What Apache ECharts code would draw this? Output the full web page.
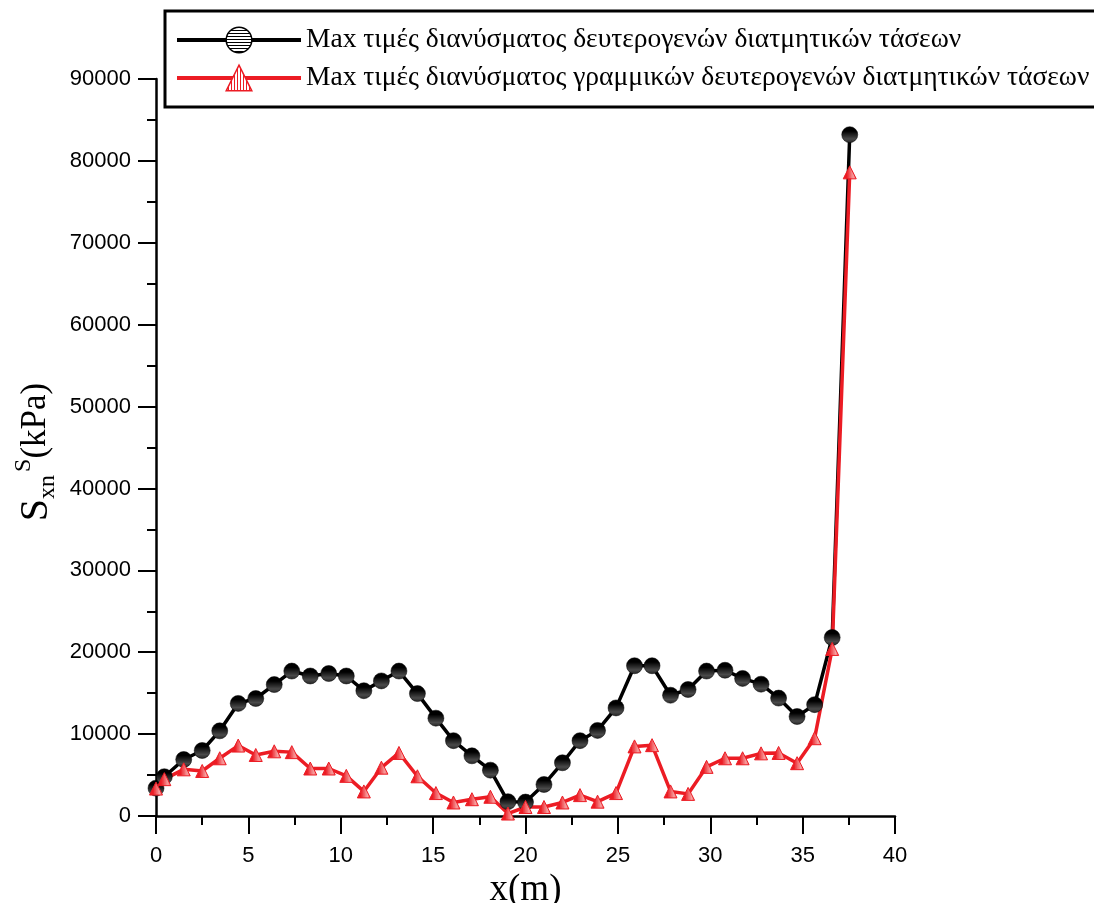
<!DOCTYPE html>
<html lang="el">
<head>
    <meta charset="UTF-8">
    <title>Sxn</title>
    <script src="https://cdn.jsdelivr.net/npm/echarts@6/dist/echarts.min.js"></script>
</head>
<body style="margin:0;background:#fff">

<div id="main" style="width:1094px;height:903px"></div>

<script>
    // θέσεις x (m)
    var xPos = [0, 0.45, 1.5, 2.5, 3.45, 4.45, 5.4, 6.4, 7.35, 8.35, 9.35, 10.3, 11.25, 12.2, 13.15, 14.15,
        15.15, 16.1, 17.1, 18.1, 19.05, 20.0, 21.0, 22.0, 22.95, 23.9, 24.9, 25.9, 26.85, 27.85, 28.8, 29.8,
        30.8, 31.75, 32.75, 33.7, 34.7, 35.65, 36.6, 37.55];

    var maxShear = [3400, 4800, 6900, 8000, 10400, 13750, 14350, 16050, 17700, 17100, 17400, 17100,
        15300, 16500, 17700, 14950, 11950, 9200, 7350, 5600, 1750, 1700, 3850, 6500, 9200, 10450, 13200,
        18350, 18350, 14750, 15450, 17700, 17800, 16800, 16100, 14400, 12150, 13600, 21800, 83200];

    var maxLinearShear = [3350, 4500, 5700, 5500, 7050, 8600, 7450, 7900, 7800, 5800, 5800, 4900,
        3000, 5900, 7700, 4850, 2800, 1650, 2050, 2350, 300, 1100, 1100, 1650, 2550, 1750, 2800,
        8500, 8650, 3000, 2700, 6000, 7050, 7050, 7650, 7700, 6450, 9500, 20400, 78600];

    var seriesNames = [
        'Max τιμές διανύσματος δευτερογενών διατμητικών τάσεων',
        'Max τιμές διανύσματος γραμμικών δευτερογενών διατμητικών τάσεων'
    ];

    var xRange = [0, 40, 5];
    var yRange = [0, 90000, 10000];

    // μοτίβο γραμμών για τα σύμβολα
    function stripes(bg, fg, vertical) {
        var c = document.createElement('canvas');
        c.width = 6;
        c.height = 6;
        var ctx = c.getContext('2d');
        ctx.fillStyle = bg;
        ctx.fillRect(0, 0, 6, 6);
        ctx.fillStyle = fg;
        if (vertical) {
            ctx.fillRect(0, 0, 1, 6);
            ctx.fillRect(3, 0, 1, 6);
        } else {
            ctx.fillRect(0, 0, 6, 1);
            ctx.fillRect(0, 3, 6, 1);
        }
        return {image: c, repeat: 'repeat'};
    }

    function pairs(xs, ys) {
        var out = [];
        for (var i = 0; i < xs.length; i++) {
            out.push([xs[i], ys[i]]);
        }
        return out;
    }

    var RED = '#ec1c24';

    var mychart = echarts.init(document.getElementById('main'));

    var option = {
        animation: false,
        backgroundColor: '#fff',
        grid: {left: 156, right: 199, top: 79, bottom: 87, outerBoundsMode: 'none'},
        legend: {
            orient: 'vertical',
            left: 165,
            top: 11,
            selectedMode: false,
            backgroundColor: '#fff',
            borderColor: '#000',
            borderWidth: 3,
            borderRadius: 0,
            padding: [15, 40, 15, 10],
            itemWidth: 124,
            itemHeight: 32,
            itemGap: 10,
            textStyle: {fontFamily: 'Liberation Serif', fontSize: 27.5, color: '#000'},
            data: [
                {
                    name: seriesNames[0],
                    lineStyle: {width: 4, color: '#000'},
                    itemStyle: {color: stripes('#fff', '#000', false), borderColor: '#000', borderWidth: 1.5}
                },
                {
                    name: seriesNames[1],
                    lineStyle: {width: 4, color: RED},
                    itemStyle: {color: stripes('#fff', RED, true), borderColor: RED, borderWidth: 1.5}
                }
            ]
        },
        xAxis: {
            type: 'value',
            min: xRange[0],
            max: xRange[1],
            interval: xRange[2],
            name: 'x(m)',
            nameLocation: 'middle',
            nameGap: 55,
            nameTextStyle: {fontFamily: 'Liberation Serif', fontSize: 37, color: '#000'},
            axisLine: {onZero: false, lineStyle: {color: '#000', width: 2.5}},
            axisTick: {length: 18, lineStyle: {width: 2, color: '#000'}},
            minorTick: {show: true, splitNumber: 2, length: 9, lineStyle: {width: 2, color: '#000'}},
            splitLine: {show: false},
            axisLabel: {margin: 29, fontFamily: 'Liberation Sans', fontSize: 22, color: '#000'}
        },
        yAxis: {
            type: 'value',
            min: yRange[0],
            max: yRange[1],
            interval: yRange[2],
            axisLine: {show: true, lineStyle: {color: '#000', width: 2.5}},
            axisTick: {show: true, length: 18, lineStyle: {width: 2, color: '#000'}},
            minorTick: {show: true, splitNumber: 2, length: 9, lineStyle: {width: 2, color: '#000'}},
            splitLine: {show: false},
            axisLabel: {
                margin: 25, fontFamily: 'Liberation Sans', fontSize: 22, color: '#000',
                formatter: function (v) { return String(v); }
            }
        },
        graphic: [{
            type: 'text',
            x: 36,
            y: 452,
            rotation: Math.PI / 2,
            style: {
                text: '{s|S}{sub|xn}{sup|S}{n|(kPa)}',
                align: 'center',
                verticalAlign: 'middle',
                rich: {
                    s: {fontFamily: 'Liberation Serif', fontSize: 40, lineHeight: 48, fill: '#000', verticalAlign: 'middle'},
                    sub: {fontFamily: 'Liberation Serif', fontSize: 24, lineHeight: 48, fill: '#000', verticalAlign: 'bottom', padding: [0, 3, 0, 0]},
                    sup: {fontFamily: 'Liberation Serif', fontSize: 24, lineHeight: 48, fill: '#000', verticalAlign: 'top'},
                    n: {fontFamily: 'Liberation Serif', fontSize: 35, lineHeight: 48, fill: '#000', verticalAlign: 'middle'}
                }
            }
        }],
        series: [
            {
                name: seriesNames[0],
                type: 'line',
                data: pairs(xPos, maxShear),
                symbol: 'circle',
                symbolSize: 16,
                showAllSymbol: true,
                lineStyle: {color: '#000', width: 3.5},
                itemStyle: {color: stripes('#000', '#4a4a4a', false), borderColor: '#000', borderWidth: 0.5}
            },
            {
                name: seriesNames[1],
                type: 'line',
                data: pairs(xPos, maxLinearShear),
                symbol: 'triangle',
                symbolSize: 13,
                showAllSymbol: true,
                lineStyle: {color: RED, width: 3.5},
                itemStyle: {color: stripes(RED, '#f7a0a0', true), borderColor: RED, borderWidth: 1}
            }
        ]
    };

    mychart.setOption(option);
</script>
</body>
</html>
